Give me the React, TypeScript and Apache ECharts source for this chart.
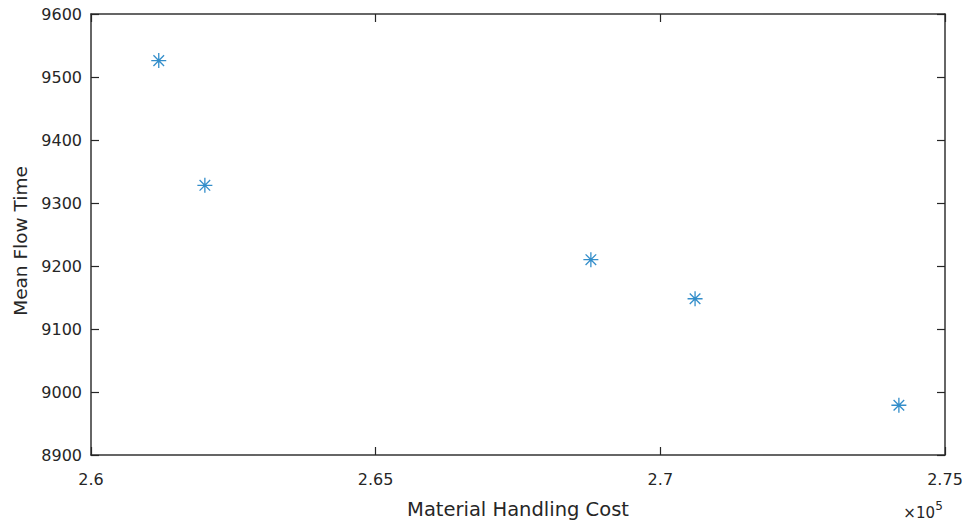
import React, { useEffect, useRef } from "react";
import * as echarts from "echarts";

const costs = [261190, 262000, 268780, 270610, 274190];
const flowTimes = [9526, 9328, 9210, 9148, 8979];
const xTickRange = { min: 260000, max: 275000, interval: 5000 };
const yTickRange = { min: 8900, max: 9600, interval: 100 };
const xTitle = "Material Handling Cost";
const yTitle = "Mean Flow Time";

const asterisk =
  "path://M10,0 L10,20 M0,10 L20,10 M2.93,2.93 L17.07,17.07 M2.93,17.07 L17.07,2.93";

function mkTick() {
  return { show: true, inside: true, length: 8, lineStyle: { color: "#262626", width: 1.2 } };
}
function mkLine() {
  return { show: true, onZero: false, lineStyle: { color: "#333333", width: 1.5 } };
}

export default function App() {
  const ref = useRef<HTMLDivElement>(null);
  useEffect(() => {
    if (!ref.current) return;
    const chart = echarts.init(ref.current, null, { renderer: "svg" });
    const font = "DejaVu Sans";
    const txt = "#262626";
    chart.setOption({
      animation: false,
      backgroundColor: "#ffffff",
      grid: { left: 91, right: 22, top: 14, bottom: 69, containLabel: false, outerBoundsMode: "none" },
      xAxis: [
        {
          type: "value",
          position: "bottom",
          ...xTickRange,
          axisLine: mkLine(),
          axisTick: mkTick(),
          splitLine: { show: false },
          axisLabel: {
            show: true,
            color: txt,
            fontFamily: font,
            fontSize: 16,
            margin: 16,
            formatter: (v: number) => String(+(v / 1e5).toFixed(2)),
          },
          name: xTitle,
          nameLocation: "middle",
          nameGap: 44,
          nameTextStyle: { color: txt, fontFamily: font, fontSize: 19.5 },
        },
        {
          type: "value",
          position: "top",
          ...xTickRange,
          axisLine: mkLine(),
          axisTick: mkTick(),
          splitLine: { show: false },
          axisLabel: { show: false },
        },
      ],
      yAxis: [
        {
          type: "value",
          position: "left",
          ...yTickRange,
          axisLine: mkLine(),
          axisTick: mkTick(),
          splitLine: { show: false },
          axisLabel: {
            show: true,
            color: txt,
            fontFamily: font,
            fontSize: 16,
            margin: 9,
            formatter: (v: number) => String(v),
          },
        },
        {
          type: "value",
          position: "right",
          ...yTickRange,
          axisLine: mkLine(),
          axisTick: mkTick(),
          splitLine: { show: false },
          axisLabel: { show: false },
        },
      ],
      graphic: [
        {
          type: "text",
          x: 20,
          y: 241,
          rotation: Math.PI / 2,
          style: {
            text: yTitle,
            fill: txt,
            fontFamily: font,
            fontSize: 18.5,
            align: "center",
            verticalAlign: "middle",
          },
        },
        {
          type: "text",
          right: 32,
          top: 505,
          style: { text: "×10", fill: txt, fontFamily: font, fontSize: 15 },
        },
        {
          type: "text",
          right: 24,
          top: 500,
          style: { text: "5", fill: txt, fontFamily: font, fontSize: 12 },
        },
      ],
      series: [
        {
          type: "scatter",
          xAxisIndex: 0,
          yAxisIndex: 0,
          data: costs.map((c, i) => [c, flowTimes[i]]),
          symbol: asterisk,
          symbolSize: 15,
          itemStyle: { color: "#0072BD", borderColor: "#0072BD", borderWidth: 1.3 },
          emphasis: { disabled: true },
        },
      ],
    });
    return () => chart.dispose();
  }, []);
  return (
    <div
      ref={ref}
      style={{ position: "fixed", left: 0, top: 0, width: 967, height: 524 }}
    />
  );
}
